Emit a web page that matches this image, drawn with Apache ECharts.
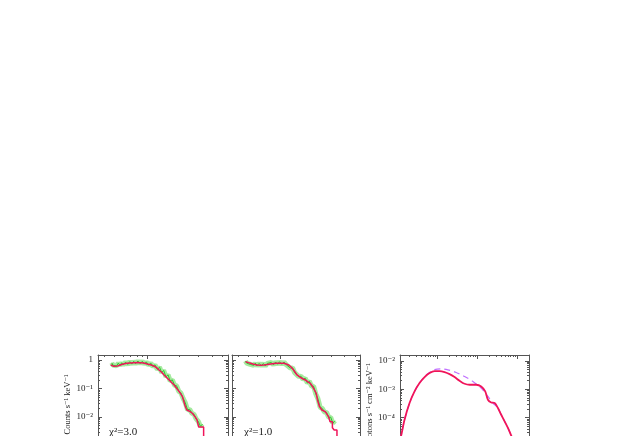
<!DOCTYPE html>
<html>
<head>
<meta charset="utf-8">
<script src="https://cdn.jsdelivr.net/npm/echarts@6/dist/echarts.min.js"></script>
<style>
  html, body { margin: 0; padding: 0; background: #fff; }
  #main { width: 618px; height: 436px; }
</style>
</head>
<body>
<div id="main"></div>
<script>
// channel energies (keV), shared by the two fitted spectra
var binE = [0.47, 0.48, 0.50, 0.52, 0.54, 0.56, 0.58, 0.60, 0.63, 0.66, 0.69, 0.72, 0.75, 0.78, 0.82, 0.86, 0.90, 0.94, 0.98, 1.03, 1.08, 1.13, 1.18, 1.24, 1.30, 1.36, 1.42, 1.49, 1.56, 1.63, 1.71, 1.79, 1.87, 1.96, 2.05, 2.15, 2.25, 2.36, 2.47, 2.59, 2.71, 2.84, 2.97, 3.11, 3.25];
// observed counts (green)
var counts1 = [0.80, 0.66, 0.74, 0.62, 0.78, 0.64, 0.80, 0.68, 0.84, 0.70, 0.88, 0.72, 0.90, 0.74, 0.92, 0.75, 0.90, 0.72, 0.86, 0.66, 0.78, 0.58, 0.68, 0.47, 0.56, 0.36, 0.43, 0.26, 0.30, 0.185, 0.20, 0.13, 0.125, 0.08, 0.070, 0.045, 0.032, 0.018, 0.0185, 0.0135, 0.0125, 0.0085, 0.0070, 0.0047, 0.0056];
var counts2 = [0.93, 0.78, 0.87, 0.70, 0.82, 0.65, 0.78, 0.62, 0.76, 0.63, 0.75, 0.62, 0.76, 0.66, 0.82, 0.68, 0.85, 0.71, 0.87, 0.71, 0.85, 0.69, 0.72, 0.52, 0.53, 0.36, 0.35, 0.26, 0.27, 0.21, 0.23, 0.155, 0.18, 0.12, 0.12, 0.064, 0.044, 0.022, 0.020, 0.015, 0.0145, 0.0097, 0.0098, 0.0060, 0.0074];

// folded models (red)
var modelE1 = [0.46, 0.49, 0.506, 0.53, 0.563, 0.60, 0.65, 0.70, 0.75, 0.81, 0.866, 0.93, 1.0, 1.07, 1.155, 1.22, 1.286, 1.36, 1.432, 1.51, 1.595, 1.68, 1.775, 1.88, 1.98, 2.05, 2.12, 2.18, 2.23, 2.28, 2.33, 2.40, 2.50, 2.62, 2.73, 2.81, 2.89, 3.0, 3.0, 3.33, 3.33];
var modelC1 = [0.668, 0.60, 0.582, 0.61, 0.668, 0.72, 0.766, 0.79, 0.804, 0.81, 0.804, 0.78, 0.724, 0.68, 0.616, 0.54, 0.446, 0.37, 0.298, 0.245, 0.199, 0.163, 0.133, 0.10, 0.0773, 0.063, 0.0515, 0.036, 0.0264, 0.021, 0.0176, 0.0165, 0.0153, 0.0135, 0.0117, 0.0095, 0.0079, 0.0069, 0.0044, 0.0044, 0.0006];
var modelE2 = [0.47, 0.50, 0.525, 0.56, 0.605, 0.65, 0.698, 0.75, 0.806, 0.87, 0.931, 1.0, 1.074, 1.13, 1.196, 1.26, 1.33, 1.432, 1.538, 1.62, 1.713, 1.80, 1.906, 1.98, 2.048, 2.17, 2.23, 2.33, 2.45, 2.64, 2.83, 2.93, 2.93, 3.08, 3.08, 3.2, 3.2, 3.4, 3.4];
var modelC2 = [0.871, 0.81, 0.766, 0.71, 0.668, 0.66, 0.668, 0.69, 0.724, 0.75, 0.766, 0.77, 0.766, 0.73, 0.668, 0.57, 0.446, 0.298, 0.247, 0.22, 0.199, 0.175, 0.152, 0.125, 0.1016, 0.068, 0.0395, 0.023, 0.0176, 0.0153, 0.0103, 0.0095, 0.0068, 0.0068, 0.0042, 0.0042, 0.0035, 0.0035, 0.0006];

// unfolded photon model (red) and unabsorbed continuum (dashed)
var modelE3 = [0.0105, 0.0128, 0.01558, 0.02078, 0.0277, 0.0369, 0.0493, 0.0657, 0.0876, 0.1168, 0.1557, 0.2077, 0.277, 0.369, 0.493, 0.657, 0.961, 1.281, 1.613, 1.884, 2.278, 2.77, 3.35, 4.05, 4.93, 5.96, 7.2, 8.9, 11];
var modelF3 = [8e-6, 2.33e-5, 8.5e-5, 3.28e-4, 8.37e-4, 1.65e-3, 2.68e-3, 3.70e-3, 4.35e-3, 4.35e-3, 4.02e-3, 3.41e-3, 2.68e-3, 1.99e-3, 1.56e-3, 1.44e-3, 1.44e-3, 1.25e-3, 8.37e-4, 4.28e-4, 3.44e-4, 3.28e-4, 2.19e-4, 1.27e-4, 7.4e-5, 4.35e-5, 2.33e-5, 1.1e-5, 5e-6];
var contE3 = [0.0105, 0.0128, 0.01558, 0.02078, 0.0277, 0.0369, 0.0493, 0.0657, 0.0876, 0.128, 0.188, 0.304, 0.493, 0.794, 1.281, 1.884, 2.51, 3.35, 4.05, 4.93, 5.96, 7.2, 8.9, 11];
var contF3 = [8e-6, 2.33e-5, 8.5e-5, 3.28e-4, 8.4e-4, 1.67e-3, 2.75e-3, 3.9e-3, 4.9e-3, 5.24e-3, 4.83e-3, 3.88e-3, 2.81e-3, 1.88e-3, 1.10e-3, 5.58e-4, 3.28e-4, 2.19e-4, 1.27e-4, 7.4e-5, 4.35e-5, 2.33e-5, 1.1e-5, 5e-6];

// ticks
var xMajor12 = [1];
var xMinor12 = [0.4, 0.5, 0.6, 0.7, 0.8, 0.9, 2, 3, 4, 5];
var yMajor12 = [0.001, 0.01, 0.1, 1];
var yMinor12 = [6e-4, 7e-4, 8e-4, 9e-4, 2e-3, 3e-3, 4e-3, 5e-3, 6e-3, 7e-3, 8e-3, 9e-3, 0.02, 0.03, 0.04, 0.05, 0.06, 0.07, 0.08, 0.09, 0.2, 0.3, 0.4, 0.5, 0.6, 0.7, 0.8, 0.9];
var xMajor3 = [0.1, 1, 10];
var xMinor3 = [0.02, 0.03, 0.04, 0.05, 0.06, 0.07, 0.08, 0.09, 0.2, 0.3, 0.4, 0.5, 0.6, 0.7, 0.8, 0.9, 2, 3, 4, 5, 6, 7, 8, 9];
var yMajor3 = [1e-5, 1e-4, 1e-3, 1e-2];
var yMinor3 = [6e-6, 7e-6, 8e-6, 9e-6, 2e-5, 3e-5, 4e-5, 5e-5, 6e-5, 7e-5, 8e-5, 9e-5, 2e-4, 3e-4, 4e-4, 5e-4, 6e-4, 7e-4, 8e-4, 9e-4, 2e-3, 3e-3, 4e-3, 5e-3, 6e-3, 7e-3, 8e-3, 9e-3];

var serif = '"Liberation Serif", "DejaVu Serif", serif';
var frame = '#555555';
var supMap = { '-': '⁻', '0': '⁰', '1': '¹', '2': '²', '3': '³', '4': '⁴', '5': '⁵', '6': '⁶' };

function powLabel(v) {
  var e = Math.round(Math.log10(v));
  if (e === 0) return '1';
  return '10' + String(e).split('').map(function (c) { return supMap[c]; }).join('');
}

function zip(xs, ys) {
  return xs.map(function (x, i) { return [x, ys[i]]; });
}

function logAxis(grid, pos, range, ticks, len, line) {
  return {
    type: 'log', logBase: 10, gridIndex: grid, position: pos,
    min: range[0], max: range[1],
    axisLine: { show: line, onZero: false, lineStyle: { color: frame, width: 1 } },
    axisTick: { show: true, inside: true, length: len, customValues: ticks, lineStyle: { color: frame, width: 1 } },
    axisLabel: { show: false },
    splitLine: { show: false }
  };
}

// bottom, top, top minor
function xAxes(grid, range, majors, minors) {
  return [
    logAxis(grid, 'bottom', range, majors, 4, true),
    logAxis(grid, 'top', range, majors, 4, true),
    logAxis(grid, 'top', range, minors, 2, false)
  ];
}

// left (labels + name), left minor, right, right minor
function yAxes(grid, range, majors, minors, name, nameGap) {
  var left = logAxis(grid, 'left', range, majors, 4, true);
  if (name) {
    left.axisLabel = { show: true, customValues: majors, formatter: powLabel, fontFamily: serif, fontSize: 9, color: '#222', margin: 5 };
    left.name = name;
    left.nameLocation = 'middle';
    left.nameGap = nameGap;
    left.nameTextStyle = { fontFamily: serif, fontSize: 8.5, color: '#222' };
  }
  return [
    left,
    logAxis(grid, 'left', range, minors, 2, false),
    logAxis(grid, 'right', range, majors, 4, true),
    logAxis(grid, 'right', range, minors, 2, false)
  ];
}

var xRange12 = [0.35, 5.6];
var yRange12 = [5e-4, 1.5];
var xRange3 = [0.012, 20];
var yRange3 = [5.3e-6, 0.016];

var green = '#2ec82e';
var greenLight = '#a6eaa0';
var red = '#f0145a';

function dataSeries(g, ys) {
  return [
    { type: 'line', xAxisIndex: 3 * g, yAxisIndex: 4 * g, data: zip(binE, ys), symbol: 'none',
      lineStyle: { color: greenLight, width: 5 }, z: 2 },
    { type: 'line', xAxisIndex: 3 * g, yAxisIndex: 4 * g, data: zip(binE, ys), symbol: 'none',
      lineStyle: { color: green, width: 1 }, z: 3 }
  ];
}

var chart = echarts.init(document.getElementById('main'));

var option = {
  animation: false,
  backgroundColor: '#ffffff',
  grid: [
    { left: 98, top: 355, width: 130, height: 99, outerBoundsMode: 'none' },
    { left: 232, top: 355, width: 128, height: 99, outerBoundsMode: 'none' },
    { left: 400, top: 355, width: 129, height: 99, outerBoundsMode: 'none' }
  ],
  xAxis: [].concat(
    xAxes(0, xRange12, xMajor12, xMinor12),
    xAxes(1, xRange12, xMajor12, xMinor12),
    xAxes(2, xRange3, xMajor3, xMinor3)
  ),
  yAxis: [].concat(
    yAxes(0, yRange12, yMajor12, yMinor12, 'Counts s⁻¹ keV⁻¹', 17),
    yAxes(1, yRange12, yMajor12, yMinor12, null, 0),
    yAxes(2, yRange3, yMajor3, yMinor3, 'Photons s⁻¹ cm⁻² keV⁻¹', 20)
  ),
  series: [].concat(
    dataSeries(0, counts1),
    dataSeries(1, counts2),
    [
      { type: 'line', xAxisIndex: 0, yAxisIndex: 0, data: zip(modelE1, modelC1), symbol: 'none',
        lineStyle: { color: red, width: 1.5 }, z: 4 },
      { type: 'line', xAxisIndex: 3, yAxisIndex: 4, data: zip(modelE2, modelC2), symbol: 'none',
        lineStyle: { color: red, width: 1.5 }, z: 4 },
      { type: 'line', xAxisIndex: 6, yAxisIndex: 8, data: zip(contE3, contF3), symbol: 'none', smooth: 0.3,
        lineStyle: { color: '#c070ff', width: 1.2, type: [6, 4] }, z: 3 },
      { type: 'line', xAxisIndex: 6, yAxisIndex: 8, data: zip(modelE3, modelF3), symbol: 'none', smooth: 0.3,
        lineStyle: { color: red, width: 1.8 }, z: 4 }
    ]
  ),
  graphic: [
    { type: 'text', left: 109, top: 427, style: { text: 'χ²=3.0', fontFamily: serif, fontSize: 11, fill: '#222' } },
    { type: 'text', left: 244, top: 427, style: { text: 'χ²=1.0', fontFamily: serif, fontSize: 11, fill: '#222' } }
  ]
};

chart.setOption(option);
</script>
</body>
</html>
